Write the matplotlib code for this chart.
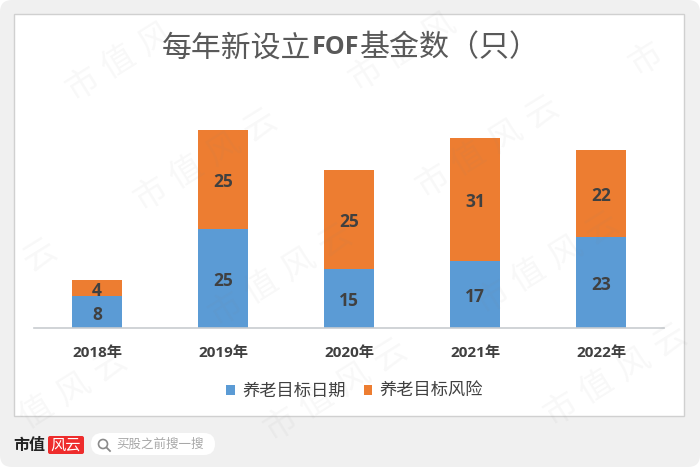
"""
Yearly new FOF funds, stacked bars on a card with watermark.
"""

import math
import matplotlib
matplotlib.use("Agg")
import matplotlib.pyplot as plt
from matplotlib.patches import Rectangle, FancyBboxPatch, Circle

plt.rcParams['font.family'] = ['Noto Sans CJK SC', 'DejaVu Sans']
LATIN = ['Open Sans', 'Noto Sans CJK SC']

# Data
YEARS = ["2018年", "2019年", "2020年", "2021年", "2022年"]
DATE_TARGET = [8, 25, 15, 17, 23]
RISK_TARGET = [4, 25, 25, 31, 22]
SERIES_NAMES = ["养老目标日期", "养老目标风险"]

BLUE = "#5b9bd5"
ORANGE = "#ed7d31"
DARK = "#404040"
TITLE_GREY = "#595959"

# Watermark centres, pixel coordinates
MARK_X = [137, 205, 487, 420, 700, -15, 280, 547, 55, 335, 615]
MARK_Y = [50, 160, 147, 40, 25, 290, 275, 263, 400, 390, 375]
MARK_CHARS = "市值风云"

fig = plt.figure(figsize=(7, 4.67), dpi=100, facecolor="white")

# Background layer in pixels
bg = fig.add_axes([0, 0, 1, 1], zorder=0)
bg.set_xlim(0, 700)
bg.set_ylim(467, 0)
bg.axis("off")
bg.add_patch(FancyBboxPatch((0, 0), 700, 467, boxstyle="round,pad=0,rounding_size=12",
                            facecolor="#f0f0f0", edgecolor="none"))
bg.add_patch(Rectangle((14, 14), 670, 402, facecolor="white", edgecolor="#d0d0d0", linewidth=1))

# Chart
ax = fig.add_axes([34 / 700, 1 - 328 / 467, 630 / 700, 237.6 / 467], zorder=1)
ax.patch.set_alpha(0)
xs = list(range(len(YEARS)))
barsDate = ax.bar(xs, DATE_TARGET, width=0.4, color=BLUE, label=SERIES_NAMES[0])
barsRisk = ax.bar(xs, RISK_TARGET, width=0.4, bottom=DATE_TARGET, color=ORANGE, label=SERIES_NAMES[1])
for bars in [barsDate, barsRisk]:
    labels = ax.bar_label(bars, label_type="center", fontsize=12.5, fontweight="bold", color=DARK,
                          family=LATIN)
    for label in labels:
        label.xyann = (0, -2)
ax.set_xlim(-0.5, 4.5)
ax.set_ylim(0, 60)
ax.set_xticks(xs, YEARS, fontsize=11, fontweight="bold", color=DARK, family=LATIN)
ax.tick_params(axis="x", length=0, pad=13)
ax.set_yticks([])
for side in ["top", "left", "right"]:
    ax.spines[side].set_visible(False)
ax.spines["bottom"].set_color("#c8ccd0")
ax.spines["bottom"].set_linewidth(1.2)

# Title: the latin part is bold
fig.text(162 / 700, 1 - 48 / 467, "每年新设立", fontsize=21.5, color=TITLE_GREY, ha="left", va="center")
fig.text(335 / 700, 1 - 48 / 467, "FOF", fontsize=18, fontweight="bold", color=TITLE_GREY,
         family=LATIN, ha="center", va="center")
fig.text(360 / 700, 1 - 48 / 467, "基金数（只）", fontsize=21.6, color=TITLE_GREY, ha="left", va="center")

fig.legend(loc="center", bbox_to_anchor=(354.5 / 700, 1 - 391 / 467), ncol=2, frameon=False,
           fontsize=12.4, labelcolor=DARK, handlelength=0.5, handleheight=0.5,
           handletextpad=0.4, columnspacing=1.05)

# Watermark and footer
top = fig.add_axes([0, 0, 1, 1], zorder=2)
top.set_xlim(0, 700)
top.set_ylim(467, 0)
top.axis("off")
angle = math.radians(32)
for mx, my in zip(MARK_X, MARK_Y):
    for k, ch in enumerate(MARK_CHARS):
        cx = mx + (k - 1.5) * 43 * math.cos(angle)
        cy = my - (k - 1.5) * 43 * math.sin(angle)
        # Characters falling off the picture are dropped
        if cx < 20 or cx > 680 or cy < 20 or cy > 447:
            continue
        top.text(cx, cy, ch, fontsize=24, color="#808080", alpha=0.06, rotation=32,
                 ha="center", va="center", fontweight="light")

top.text(13, 445, "市值", fontsize=11.5, fontweight="bold", color="#222222", ha="left", va="center")
top.add_patch(FancyBboxPatch((48, 436), 36, 18, boxstyle="round,pad=0,rounding_size=2",
                             facecolor="#ee2c2c", edgecolor="none"))
top.text(66, 445, "风云", fontsize=11, color="white", ha="center", va="center", fontweight="light")
top.add_patch(FancyBboxPatch((91, 433), 124, 22, boxstyle="round,pad=0,rounding_size=11",
                             facecolor="white", edgecolor="none"))
top.add_patch(Circle((103, 444), 4.5, facecolor="none", edgecolor="#8a8a8a", linewidth=1.2))
top.plot([106.5, 110], [447.5, 451], color="#8a8a8a", linewidth=1.3)
top.text(116, 444.5, "买股之前搜一搜", fontsize=9, color="#a8a8a8", ha="left", va="center")

fig.savefig("out.png", dpi=100, facecolor=fig.get_facecolor())
